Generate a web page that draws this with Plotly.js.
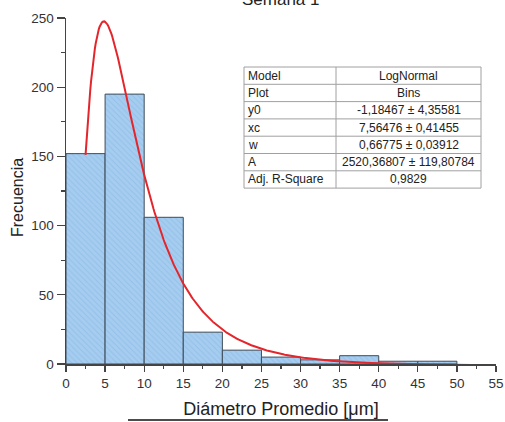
<!DOCTYPE html>
<html>
<head>
<meta charset="utf-8">
<script src="https://cdn.plot.ly/plotly-3.0.1.min.js"></script>
<style>
  html, body { margin: 0; padding: 0; background: #ffffff; }
  #chart { width: 505px; height: 422px; }
</style>
</head>
<body>
<div id="chart"></div>
<script>
// Histogram bins (left edge, width 5 µm) and counts
const binLeft = [0, 5, 10, 15, 20, 25, 30, 35, 40, 45];
const binCounts = [152, 195, 106, 23, 10, 5, 3, 6, 2, 2];
const binWidth = 5;

// LogNormal fit parameters and standard errors
const paramNames = ['y0', 'xc', 'w', 'A'];
const paramValues = [-1.18467, 7.56476, 0.66775, 2520.36807];
const paramErrors = [4.35581, 0.41455, 0.03912, 119.80784];
const adjRSquare = 0.9829;
const fitStart = 2.5;
const fitEnd = 52.5;

// Axis ticks
const xTicks = [0, 5, 10, 15, 20, 25, 30, 35, 40, 45, 50, 55];
const yTicks = [0, 50, 100, 150, 200, 250];

const chartTitle = 'Semana 1';
const xTitle = 'Diámetro Promedio [μm]';
const yTitle = 'Frecuencia';

// Log-normal curve evaluated from the fitted parameters
const [y0, xc, w, A] = paramValues;
function logNormal(x) {
  const l = Math.log(x / xc);
  return y0 + A / (Math.sqrt(2 * Math.PI) * w * x) * Math.exp(-(l * l) / (2 * w * w));
}
const fitX = [];
const fitY = [];
for (let x = fitStart; x <= fitEnd + 1e-9; x += 0.1) {
  fitX.push(x);
  fitY.push(logNormal(x));
}

// Comma decimal formatting
const fmt = (v, d) => v.toFixed(d).replace('.', ',');
const tableLabels = ['Model', 'Plot'].concat(paramNames, ['Adj. R-Square']);
const tableValues = ['LogNormal', 'Bins']
  .concat(paramValues.map((v, i) => fmt(v, 5) + ' ± ' + fmt(paramErrors[i], 5)))
  .concat([fmt(adjRSquare, 4)]);

// Plot area in pixels, used to place the parameter table in paper coordinates
const W = 505, H = 422;
const M = { l: 66, r: 9, t: 18, b: 58 };
const plotW = W - M.l - M.r;
const plotH = H - M.t - M.b;
const px = p => (p - M.l) / plotW;
const py = p => (H - M.b - p) / plotH;

const tbl = { left: 244, mid: 336, right: 481, top: 67, rowH: 17.3 };
const shapes = [];
const annotations = [];
const borderColor = '#a0a0a0';
const nRows = tableLabels.length;
const tblBottom = tbl.top + nRows * tbl.rowH;

shapes.push({ type: 'rect', xref: 'paper', yref: 'paper',
  x0: px(tbl.left), x1: px(tbl.right), y0: py(tbl.top), y1: py(tblBottom),
  line: { color: borderColor, width: 1 }, fillcolor: '#ffffff', layer: 'above' });
shapes.push({ type: 'line', xref: 'paper', yref: 'paper',
  x0: px(tbl.mid), x1: px(tbl.mid), y0: py(tbl.top), y1: py(tblBottom),
  line: { color: borderColor, width: 1 }, layer: 'above' });
for (let i = 1; i < nRows; i++) {
  const yy = py(tbl.top + i * tbl.rowH);
  shapes.push({ type: 'line', xref: 'paper', yref: 'paper',
    x0: px(tbl.left), x1: px(tbl.right), y0: yy, y1: yy,
    line: { color: borderColor, width: 1 }, layer: 'above' });
}
const tFont = { family: 'Liberation Sans, Arial, sans-serif', size: 12, color: '#222222' };
for (let i = 0; i < nRows; i++) {
  const yc = py(tbl.top + (i + 0.5) * tbl.rowH);
  annotations.push({ xref: 'paper', yref: 'paper', x: px(tbl.left + 2), y: yc,
    xanchor: 'left', yanchor: 'middle', text: tableLabels[i], showarrow: false, font: tFont });
  annotations.push({ xref: 'paper', yref: 'paper', x: px((tbl.mid + tbl.right) / 2), y: yc,
    xanchor: 'center', yanchor: 'middle', text: tableValues[i], showarrow: false, font: tFont });
}

// Chart title (partly above the top edge)
annotations.push({ xref: 'paper', yref: 'paper', x: 0.5, y: 1, xanchor: 'center', yanchor: 'bottom',
  yshift: 7, text: chartTitle, showarrow: false,
  font: { family: 'Liberation Sans, Arial, sans-serif', size: 17, color: '#222222' } });

// Y axis title
annotations.push({ xref: 'paper', yref: 'paper', x: px(17), y: py(198), xanchor: 'center', yanchor: 'middle',
  textangle: -90, text: yTitle, showarrow: false,
  font: { family: 'Liberation Sans, Arial, sans-serif', size: 16, color: '#222222' } });

// Line under the x axis title
shapes.push({ type: 'line', xref: 'paper', yref: 'paper',
  x0: px(128), x1: px(388), y0: py(420), y1: py(420),
  line: { color: '#111111', width: 1.5 } });

const axisColor = '#444444';
const tickFont = { family: 'Liberation Sans, Arial, sans-serif', size: 13.5, color: '#333333' };

const traces = [
  {
    type: 'bar',
    x: binLeft,
    y: binCounts,
    width: binLeft.map(() => binWidth),
    offset: 0,
    marker: {
      color: '#a6cdf0',
      line: { color: '#3d4b59', width: 1 },
      pattern: { shape: '\\', fillmode: 'overlay', fgcolor: '#7fb2e0', size: 4, solidity: 0.25 }
    },
    hoverinfo: 'x+y',
    showlegend: false
  },
  {
    type: 'scatter',
    mode: 'lines',
    x: fitX,
    y: fitY,
    line: { color: '#e3262c', width: 2 },
    showlegend: false
  }
];

const layout = {
  width: W,
  height: H,
  margin: M,
  paper_bgcolor: '#ffffff',
  plot_bgcolor: '#ffffff',
  showlegend: false,
  bargap: 0,
  xaxis: {
    range: [0, 55],
    tickvals: xTicks,
    ticks: 'outside',
    ticklen: 6,
    tickwidth: 1.3,
    tickcolor: axisColor,
    showline: true,
    linecolor: axisColor,
    linewidth: 1.5,
    showgrid: false,
    zeroline: false,
    tickfont: tickFont,
    minor: { dtick: 2.5, ticks: 'outside', ticklen: 3.5, tickcolor: axisColor, showgrid: false },
    title: { text: xTitle, standoff: 12,
      font: { family: 'Liberation Sans, Arial, sans-serif', size: 18, color: '#222222' } }
  },
  yaxis: {
    range: [0, 250],
    tickvals: yTicks,
    ticks: 'outside',
    ticklen: 8,
    tickwidth: 1.3,
    tickcolor: axisColor,
    showline: true,
    linecolor: axisColor,
    linewidth: 1.5,
    showgrid: false,
    zeroline: false,
    tickfont: tickFont,
    minor: { dtick: 25, ticks: 'outside', ticklen: 4, tickcolor: axisColor, showgrid: false }
  },
  shapes: shapes,
  annotations: annotations
};

Plotly.newPlot('chart', traces, layout, { displayModeBar: false, staticPlot: true });
</script>
</body>
</html>
